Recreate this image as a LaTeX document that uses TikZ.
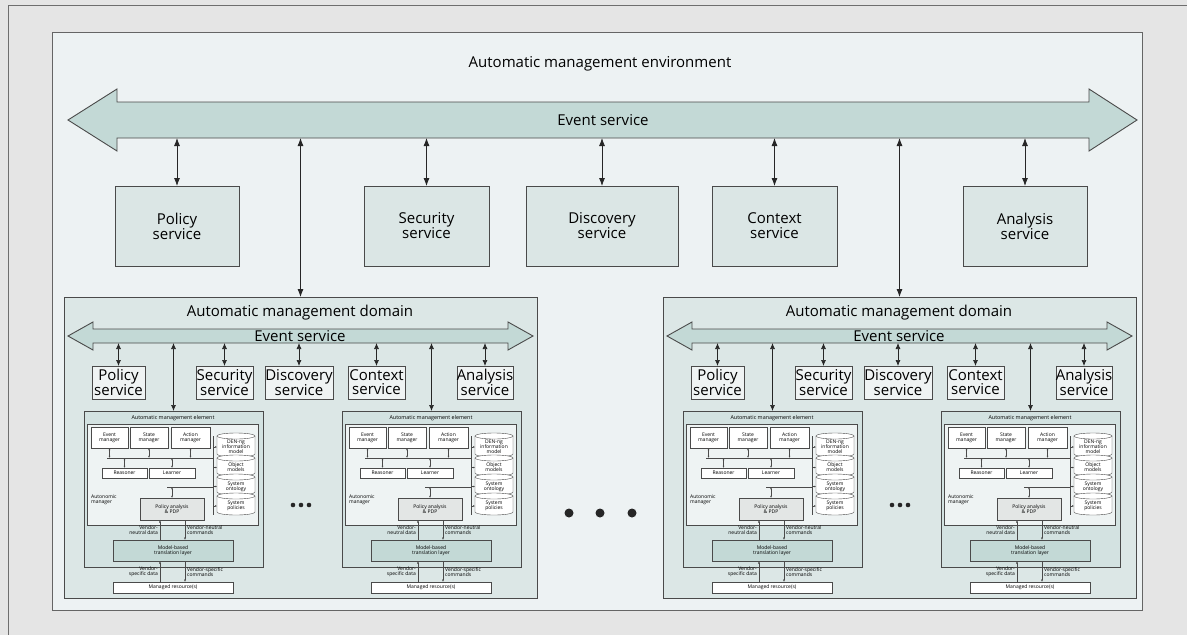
\documentclass[tikz,border=0pt]{standalone}
\usepackage{fontspec}
\setmainfont{Open Sans}
\usetikzlibrary{arrows.meta}
\definecolor{bggray}{HTML}{E5E5E5}
\definecolor{envfill}{HTML}{EDF2F3}
\definecolor{barfill}{HTML}{C3D9D6}
\definecolor{svcfill}{HTML}{DBE6E5}
\definecolor{domfill}{HTML}{DCE7E6}
\definecolor{smallfill}{HTML}{EFF3F3}
\definecolor{elfill}{HTML}{D3E2E1}
\definecolor{amfill}{HTML}{EEF3F3}
\definecolor{pdpfill}{HTML}{E3E6E5}
\definecolor{lc}{HTML}{4A4A4A}

\newcommand\bigf{\fontsize{15}{15}\selectfont}
\newcommand\smlf{\fontsize{15}{14}\selectfont}
\newcommand\tnyf{\fontsize{5}{5.2}\selectfont}
\newcommand\ttlf{\fontsize{5.4}{5.4}\selectfont}

% box from (x1,y1) to (x2,y2) with separate text node
\newcommand\bx[8]{%
  \node[#6, inner sep=0pt, outer sep=0pt, minimum width={(#4)-(#2)}, minimum height={(#5)-(#3)}] (#1) at ({((#2)+(#4))/2},{((#3)+(#5))/2}) {};
  \node[align=center, inner sep=0pt, font=#7] (#1-l) at (#1.center) {#8};}

% cylinder: name, top, bottom, text
\newcommand\cyl[4]{%
  \path[fill=white, draw=lc, line width=0.4pt] (133,#2) -- (133,#3) arc[start angle=180, end angle=360, x radius=19pt, y radius=3pt] -- (171,#2);
  \draw[fill=white, draw=lc, line width=0.4pt] (152,#2) ellipse[x radius=19pt, y radius=3pt];
  \node[font=\tnyf, align=center, inner sep=0pt] (#1) at (152,{(#2+#3)/2+2}) {#4};}

% element: prefix, x0
\newcommand\amelement[2]{%
\begin{scope}[shift={(#2,411)}]
  \bx{#1}{0}{0}{179}{156}{elbox}{\ttlf}{}
  \node[font=\ttlf, inner sep=0pt] (#1-t) at (89,7) {Automatic management element};
  \bx{#1-am}{3}{13}{174}{114}{ambox}{\tnyf}{}
  \bx{#1-evm}{7}{16}{44}{37}{wbox}{\tnyf}{Event\\manager}
  \bx{#1-stm}{46}{16}{84}{37}{wbox}{\tnyf}{State\\manager}
  \bx{#1-acm}{87}{16}{126}{37}{wbox}{\tnyf}{Action\\manager}
  \coordinate (#1-b1) at (23,47); \coordinate (#1-b2) at (129,47);
  \draw[thin line] (#1-b1) -- (#1-b2);
  \draw[tdbl] (#1-evm.south) -- (#1-evm.south |- #1-b1);
  \draw[tdbl] (#1-stm.south) -- (#1-stm.south |- #1-b1);
  \draw[tdbl] (#1-acm.south) -- (#1-acm.south |- #1-b1);
  \bx{#1-rea}{18}{57}{63}{67}{wbox}{\tnyf}{Reasoner}
  \bx{#1-lea}{65}{57}{111}{67}{wbox}{\tnyf}{Learner}
  \draw[tdbl] (#1-rea.north) -- (#1-rea.north |- #1-b1);
  \draw[tdbl] (#1-lea.north) -- (#1-lea.north |- #1-b1);
  \coordinate (#1-c1) at (83,76); \coordinate (#1-c2) at (129,76);
  \draw[thin line] (#1-c1) -- (#1-c2);
  \bx{#1-pdp}{56}{87}{120}{109}{pdpbox}{\tnyf}{Policy analysis\\\& PDP}
  \draw[tdbl] (#1-pdp.north) -- (#1-pdp.north |- #1-c1);
  \node[font=\tnyf, align=left, anchor=west, inner sep=0pt] (#1-aml) at (7,89) {Autonomic\\manager};
  \coordinate (#1-v1) at (129,25); \coordinate (#1-v2) at (129,104);
  \draw[thin line] (#1-v1) -- (#1-v2);
  \cyl{#1-den}{25}{43}{DEN-ng\\information\\model}
  \cyl{#1-obj}{47}{62}{Object\\models}
  \cyl{#1-ont}{66}{81}{System\\ontology}
  \cyl{#1-spo}{85}{101}{System\\policies}
  \draw[ttip] (#1-v1 |- #1-den) -- ++(4,0);
  \draw[ttip] (#1-v1 |- #1-obj) -- ++(4,0);
  \draw[ttip] (#1-v1 |- #1-ont) -- ++(4,0);
  \draw[ttip] (#1-v1 |- #1-spo) -- ++(4,0);
  \bx{#1-mbt}{29}{129}{149}{150}{mbtbox}{\tnyf}{Model-based\\translation layer}
  \bx{#1-mr}{29}{171}{149}{182}{wbox}{\tnyf}{Managed resource(s)}
  \coordinate (#1-xl) at (76,0); \coordinate (#1-xr) at (101,0);
  \draw[tarr] (#1-xl |- #1-mbt.north) -- (#1-xl |- #1-pdp.south);
  \draw[tarr] (#1-xr |- #1-pdp.south) -- (#1-xr |- #1-mbt.north);
  \draw[tarr] (#1-xl |- #1-mr.north) -- (#1-xl |- #1-mbt.south);
  \draw[tarr] (#1-xr |- #1-mbt.south) -- (#1-xr |- #1-mr.north);
  \node[font=\tnyf, align=right, anchor=east, inner sep=0pt] (#1-vnd) at (74,119) {Vendor-\\neutral data};
  \node[font=\tnyf, align=left, anchor=west, inner sep=0pt] (#1-vnc) at (103,119) {Vendor-neutral\\commands};
  \node[font=\tnyf, align=right, anchor=east, inner sep=0pt] (#1-vsd) at (74,161) {Vendor-\\specific data};
  \node[font=\tnyf, align=left, anchor=west, inner sep=0pt] (#1-vsc) at (103,161) {Vendor-specific\\commands};
\end{scope}}

% domain: prefix, dx
\newcommand\amdomain[2]{%
\begin{scope}[shift={(#2,0)}]
  \bx{#1}{64}{297}{537}{598}{dombox}{\bigf}{}
  \node[font=\bigf, inner sep=0pt] (#1-t) at (300,313) {Automatic management domain};
  \draw[barstyle] (68,336) -- (93,322) -- (93,329) -- (508,329) -- (508,322) -- (533,336) -- (508,350) -- (508,343) -- (93,343) -- (93,350) -- cycle;
  \node[font=\bigf, inner sep=0pt] (#1-ev) at (300,336) {Event service};
  \coordinate (#1-evb) at (0,343);
  \bx{#1-pol}{92}{366}{145}{399}{smbox}{\smlf}{Policy\\service}
  \bx{#1-sec}{196}{366}{253}{399}{smbox}{\smlf}{Security\\service}
  \bx{#1-dis}{265}{366}{333}{399}{smbox}{\smlf}{Discovery\\service}
  \bx{#1-ctx}{348}{366}{405}{399}{smbox}{\smlf}{Context\\service}
  \bx{#1-ana}{457}{366}{513}{399}{smbox}{\smlf}{Analysis\\service}
  \draw[mdbl] (#1-pol.north) -- (#1-pol.north |- #1-evb);
  \draw[mdbl] (#1-sec.north) -- (#1-sec.north |- #1-evb);
  \draw[mdbl] (#1-dis.north) -- (#1-dis.north |- #1-evb);
  \draw[mdbl] (#1-ctx.north) -- (#1-ctx.north |- #1-evb);
  \draw[mdbl] (#1-ana.north) -- (#1-ana.north |- #1-evb);
  \amelement{#1-e1}{84}
  \amelement{#1-e2}{342}
  \draw[mdbl] (#1-e1.north) -- (#1-e1.north |- #1-evb);
  \draw[mdbl] (#1-e2.north) -- (#1-e2.north |- #1-evb);
  \fill[black!85] (293,505) circle[radius=2.3pt] (301,505) circle[radius=2.3pt] (309,505) circle[radius=2.3pt];
\end{scope}}

\tikzset{
  thin line/.style={draw=lc, line width=0.4pt},
  envbox/.style={draw=lc!85, fill=envfill, line width=0.9pt},
  svcbox/.style={draw=lc, fill=svcfill, line width=0.8pt},
  dombox/.style={draw=lc, fill=domfill, line width=0.8pt},
  smbox/.style={draw=lc, fill=smallfill, line width=0.7pt},
  elbox/.style={draw=lc, fill=elfill, line width=0.5pt},
  ambox/.style={draw=lc, fill=amfill, line width=0.5pt},
  wbox/.style={draw=lc, fill=white, line width=0.5pt},
  pdpbox/.style={draw=lc, fill=pdpfill, line width=0.5pt},
  mbtbox/.style={draw=lc, fill=barfill, line width=0.5pt},
  barstyle/.style={draw=lc, fill=barfill, line width=0.9pt, line join=miter},
  bdbl/.style={draw=black!85, line width=0.8pt, {Latex[length=8pt,width=6pt]}-{Latex[length=8pt,width=6pt]}},
  mdbl/.style={draw=black!85, line width=0.7pt, {Latex[length=6pt,width=5pt]}-{Latex[length=6pt,width=5pt]}},
  tdbl/.style={draw=lc, line width=0.4pt, {Latex[length=2.2pt,width=1.8pt]}-{Latex[length=2.2pt,width=1.8pt]}},
  tarr/.style={draw=lc, line width=0.4pt, -{Latex[length=2.5pt,width=2pt]}},
  ttip/.style={draw=lc, line width=0.4pt, -{Latex[length=2pt,width=1.8pt]}},
}

\begin{document}
\begin{tikzpicture}[x=1pt, y=-1pt]
\useasboundingbox (0,0) rectangle (1187,635);
\fill[bggray] (0,0) rectangle (1187,635);
\draw[lc!80, line width=0.8pt] (8,645) -- (8,5) -- (1195,5);

\bx{env}{52}{32}{1142}{610}{envbox}{\bigf}{}
\node[font=\bigf, inner sep=0pt] (envt) at (600,64) {Automatic management environment};

\draw[barstyle] (68,120) -- (117,89) -- (117,102) -- (1089,102) -- (1089,89) -- (1137,120) -- (1089,151) -- (1089,138) -- (117,138) -- (117,151) -- cycle;
\node[font=\bigf, inner sep=0pt] (ev) at (603,120) {Event service};
\coordinate (evb) at (0,138);

\bx{pol}{115}{186}{239}{266}{svcbox}{\bigf}{Policy\\service}
\bx{sec}{364}{186}{489}{266}{svcbox}{\bigf}{Security\\service}
\bx{dis}{526}{186}{678}{266}{svcbox}{\bigf}{Discovery\\service}
\bx{ctx}{712}{186}{837}{266}{svcbox}{\bigf}{Context\\service}
\bx{ana}{963}{186}{1087}{266}{svcbox}{\bigf}{Analysis\\service}

\draw[bdbl] (pol.north) -- (pol.north |- evb);
\draw[bdbl] (sec.north) -- (sec.north |- evb);
\draw[bdbl] (dis.north) -- (dis.north |- evb);
\draw[bdbl] (ctx.north) -- (ctx.north |- evb);
\draw[bdbl] (ana.north) -- (ana.north |- evb);

\amdomain{da}{0}
\amdomain{db}{599}

\draw[bdbl] (da.north) -- (da.north |- evb);
\draw[bdbl] (db.north) -- (db.north |- evb);

\fill[black!85] (569,513) circle[radius=4.5pt] (600,513) circle[radius=4.5pt] (632,513) circle[radius=4.5pt];
\end{tikzpicture}
\end{document}
